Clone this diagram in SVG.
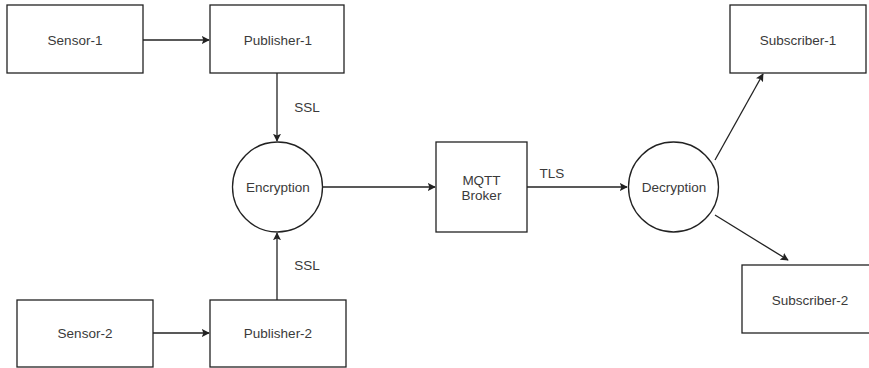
<svg xmlns="http://www.w3.org/2000/svg" width="869" height="368" viewBox="0 0 869 368">
<style>
.box{fill:#fff;stroke:#222;stroke-width:1.3}
.lbl{font-family:"Liberation Sans",Arial,sans-serif;font-size:13.5px;fill:#3a3a3a;text-anchor:middle;dominant-baseline:central}
.edge{fill:none;stroke:#222;stroke-width:1.3;marker-end:url(#ah)}
</style>
<defs>
<marker id="ah" viewBox="0 0 10 10" refX="9" refY="5" markerWidth="8" markerHeight="8" markerUnits="userSpaceOnUse" orient="auto">
<path d="M0,0 L10,5 L0,10 L2,5 Z" fill="#222"/>
</marker>
</defs>
<rect width="869" height="368" fill="#fff"/>
<g id="connectors">
<line class="edge" x1="143" y1="40" x2="209" y2="40"/>
<line class="edge" x1="277" y1="73" x2="277" y2="141"/>
<line class="edge" x1="277" y1="300" x2="277" y2="233"/>
<line class="edge" x1="323" y1="187" x2="435" y2="187"/>
<line class="edge" x1="527" y1="187" x2="627" y2="187"/>
<line class="edge" x1="715" y1="160" x2="763" y2="74"/>
<line class="edge" x1="715" y1="215" x2="788" y2="260"/>
<line class="edge" x1="153" y1="333" x2="209" y2="333"/>
<text class="lbl" x="307" y="107">SSL</text>
<text class="lbl" x="307" y="265">SSL</text>
<text class="lbl" x="552" y="173">TLS</text>
</g>
<g id="sensor1"><rect class="box" x="7" y="5" width="136" height="68"/><text class="lbl" x="75" y="40">Sensor-1</text></g>
<g id="publisher1"><rect class="box" x="210" y="5" width="134" height="68"/><text class="lbl" x="278" y="40">Publisher-1</text></g>
<g id="encryption"><circle class="box" cx="277.5" cy="187" r="45"/><text class="lbl" x="278" y="187">Encryption</text></g>
<g id="broker"><rect class="box" x="436" y="142" width="91" height="90"/><text class="lbl" x="481.5" y="180">MQTT</text><text class="lbl" x="481.5" y="195">Broker</text></g>
<g id="decryption"><circle class="box" cx="673.5" cy="187" r="45"/><text class="lbl" x="674" y="187">Decryption</text></g>
<g id="subscriber1"><rect class="box" x="730" y="5" width="136" height="68"/><text class="lbl" x="798" y="40">Subscriber-1</text></g>
<g id="subscriber2"><rect class="box" x="742" y="265" width="136" height="68"/><text class="lbl" x="810" y="300">Subscriber-2</text></g>
<g id="sensor2"><rect class="box" x="17" y="300" width="136" height="67"/><text class="lbl" x="85" y="333">Sensor-2</text></g>
<g id="publisher2"><rect class="box" x="210" y="300" width="136" height="67"/><text class="lbl" x="278" y="333">Publisher-2</text></g>
</svg>
